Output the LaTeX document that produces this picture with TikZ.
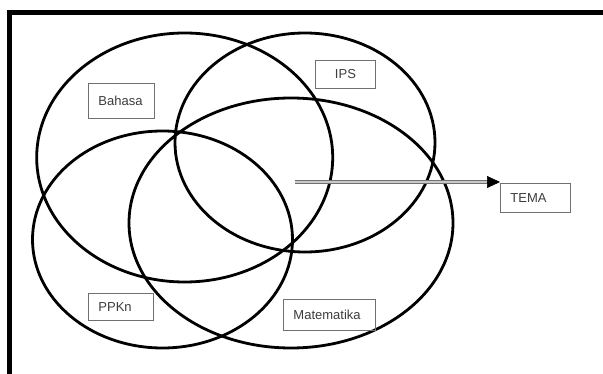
\documentclass[tikz,border=0pt]{standalone}
\usepackage{fontspec}
\setmainfont{Liberation Sans}
\usetikzlibrary{shapes.geometric,arrows.meta}
\definecolor{boxline}{HTML}{707070}
\definecolor{labeltext}{HTML}{3C3C3C}
\definecolor{dblline}{HTML}{707070}
\definecolor{dblfill}{HTML}{C8C8C8}
\tikzset{
  venn/.style={draw=black, line width=2.8pt, ellipse, inner sep=0pt, fill=none},
  lbl/.style={draw=boxline, line width=0.9pt, anchor=north west, inner xsep=10pt, inner ysep=0pt,
    font=\fontsize{13}{15}\selectfont, text=labeltext, align=left},
  dblarrow/.style={draw=dblline, double=dblfill, double distance=1.6pt, line width=1pt},
}
\begin{document}
\begin{tikzpicture}[x=1pt,y=-1pt]
\useasboundingbox (0,0) rectangle (603,374);
\fill[white] (0,0) rectangle (603,374);
% frame
\draw[line width=5pt] (9,380) -- (9,12.5) -- (610,12.5);
% ellipses
\node[venn, minimum width=296pt, minimum height=249pt] (bahasaE) at (184.7,157.5) {};
\node[venn, minimum width=260pt, minimum height=219pt] (ipsE) at (305,142.5) {};
\node[venn, minimum width=260pt, minimum height=217pt] (ppknE) at (162.5,239.5) {};
\node[venn, minimum width=324pt, minimum height=250pt] (mtkE) at (291,223) {};
% labels
\node[lbl, text width=46pt, minimum height=35pt] (bahasa) at (88,83) {Bahasa};
\node[lbl, text width=40pt, minimum height=28pt, align=center] (ips) at (315,60) {IPS};
\node[lbl, text width=45pt, minimum height=27pt] (ppkn) at (88,293) {PPKn};
\node[lbl, text width=72pt, minimum height=31pt] (mtk) at (283,298.7) {Matematika};
\node[lbl, text width=50pt, minimum height=29.5pt] (tema) at (500,182.7) {TEMA};
% arrow
\coordinate (src) at (295,182);
\draw[dblarrow, shorten >=11pt] (src) -- (src -| tema.north west);
\draw[-{Triangle[length=13pt,width=12pt]}, draw=black, line width=0.6pt, shorten <=192pt] (src) -- (src -| tema.north west);
\end{tikzpicture}
\end{document}
